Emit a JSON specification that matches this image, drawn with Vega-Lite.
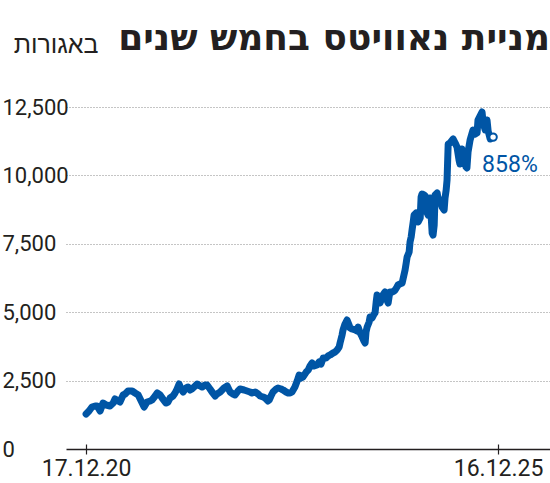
{
  "$schema": "https://vega.github.io/schema/vega-lite/v6.json",
  "width": 484,
  "height": 342,
  "autosize": "none",
  "padding": {"left": 66, "top": 107, "right": 0, "bottom": 34},
  "background": "white",
  "config": {"view": {"stroke": null}},
  "title": {
    "text": "מניית נאוויטס בחמש שנים",
    "anchor": "end",
    "frame": "group",
    "font": "DejaVu Sans",
    "fontSize": 36,
    "fontWeight": "bold",
    "color": "#231f20",
    "baseline": "alphabetic",
    "offset": 0,
    "dy": 54,
    "dx": 0
  },
  "datasets": {
    "prices": [
      {"date": "2020-12-17", "value": 1280},
      {"date": "2020-12-30", "value": 1389},
      {"date": "2021-01-12", "value": 1535},
      {"date": "2021-01-26", "value": 1572},
      {"date": "2021-02-04", "value": 1572},
      {"date": "2021-02-17", "value": 1389},
      {"date": "2021-03-02", "value": 1681},
      {"date": "2021-03-16", "value": 1608},
      {"date": "2021-04-02", "value": 1572},
      {"date": "2021-04-16", "value": 1681},
      {"date": "2021-04-24", "value": 1828},
      {"date": "2021-05-08", "value": 1754},
      {"date": "2021-05-16", "value": 1718},
      {"date": "2021-05-30", "value": 1974},
      {"date": "2021-06-08", "value": 2010},
      {"date": "2021-06-21", "value": 2120},
      {"date": "2021-07-09", "value": 2120},
      {"date": "2021-07-22", "value": 2047},
      {"date": "2021-08-05", "value": 1974},
      {"date": "2021-08-18", "value": 1754},
      {"date": "2021-08-31", "value": 1535},
      {"date": "2021-09-13", "value": 1718},
      {"date": "2021-09-27", "value": 1754},
      {"date": "2021-10-05", "value": 1791},
      {"date": "2021-10-19", "value": 1937},
      {"date": "2021-10-28", "value": 2047},
      {"date": "2021-11-10", "value": 1974},
      {"date": "2021-11-19", "value": 1864},
      {"date": "2021-12-06", "value": 1681},
      {"date": "2021-12-15", "value": 1718},
      {"date": "2021-12-24", "value": 1864},
      {"date": "2022-01-06", "value": 1937},
      {"date": "2022-01-15", "value": 2047},
      {"date": "2022-01-24", "value": 2193},
      {"date": "2022-02-02", "value": 2376},
      {"date": "2022-02-11", "value": 2193},
      {"date": "2022-02-20", "value": 2083},
      {"date": "2022-03-05", "value": 2230},
      {"date": "2022-03-14", "value": 2266},
      {"date": "2022-03-23", "value": 2156},
      {"date": "2022-03-31", "value": 2193},
      {"date": "2022-04-14", "value": 2303},
      {"date": "2022-04-23", "value": 2376},
      {"date": "2022-05-06", "value": 2303},
      {"date": "2022-05-15", "value": 2266},
      {"date": "2022-05-28", "value": 2339},
      {"date": "2022-06-06", "value": 2339},
      {"date": "2022-06-19", "value": 2193},
      {"date": "2022-06-28", "value": 2083},
      {"date": "2022-07-12", "value": 1937},
      {"date": "2022-07-20", "value": 2010},
      {"date": "2022-08-03", "value": 2083},
      {"date": "2022-08-20", "value": 2230},
      {"date": "2022-09-03", "value": 2303},
      {"date": "2022-09-16", "value": 2083},
      {"date": "2022-09-29", "value": 2010},
      {"date": "2022-10-08", "value": 1974},
      {"date": "2022-10-21", "value": 2120},
      {"date": "2022-10-30", "value": 2193},
      {"date": "2022-11-17", "value": 2156},
      {"date": "2022-11-30", "value": 2120},
      {"date": "2022-12-13", "value": 2083},
      {"date": "2022-12-22", "value": 2047},
      {"date": "2023-01-05", "value": 2083},
      {"date": "2023-01-18", "value": 2010},
      {"date": "2023-01-27", "value": 1937},
      {"date": "2023-02-09", "value": 1901},
      {"date": "2023-02-18", "value": 1864},
      {"date": "2023-03-03", "value": 1754},
      {"date": "2023-03-08", "value": 1791},
      {"date": "2023-03-16", "value": 1937},
      {"date": "2023-03-25", "value": 2083},
      {"date": "2023-04-08", "value": 2193},
      {"date": "2023-04-16", "value": 2230},
      {"date": "2023-04-30", "value": 2193},
      {"date": "2023-05-09", "value": 2156},
      {"date": "2023-05-22", "value": 2083},
      {"date": "2023-05-31", "value": 2047},
      {"date": "2023-06-09", "value": 2047},
      {"date": "2023-06-17", "value": 2083},
      {"date": "2023-06-30", "value": 2266},
      {"date": "2023-07-10", "value": 2485},
      {"date": "2023-07-19", "value": 2705},
      {"date": "2023-07-28", "value": 2595},
      {"date": "2023-08-05", "value": 2632},
      {"date": "2023-08-19", "value": 2814},
      {"date": "2023-08-28", "value": 2887},
      {"date": "2023-09-05", "value": 3034},
      {"date": "2023-09-14", "value": 3143},
      {"date": "2023-09-23", "value": 3034},
      {"date": "2023-10-06", "value": 3070},
      {"date": "2023-10-15", "value": 3180},
      {"date": "2023-10-24", "value": 3107},
      {"date": "2023-11-02", "value": 3326},
      {"date": "2023-11-15", "value": 3326},
      {"date": "2023-11-24", "value": 3399},
      {"date": "2023-12-03", "value": 3436},
      {"date": "2023-12-16", "value": 3509},
      {"date": "2023-12-25", "value": 3545},
      {"date": "2024-01-03", "value": 3618},
      {"date": "2024-01-12", "value": 3728},
      {"date": "2024-01-16", "value": 3874},
      {"date": "2024-01-25", "value": 4167},
      {"date": "2024-01-29", "value": 4349},
      {"date": "2024-02-07", "value": 4569},
      {"date": "2024-02-16", "value": 4715},
      {"date": "2024-02-25", "value": 4532},
      {"date": "2024-02-29", "value": 4423},
      {"date": "2024-03-09", "value": 4386},
      {"date": "2024-03-23", "value": 4349},
      {"date": "2024-03-31", "value": 4313},
      {"date": "2024-04-05", "value": 4459},
      {"date": "2024-04-14", "value": 4240},
      {"date": "2024-04-23", "value": 4094},
      {"date": "2024-05-01", "value": 3947},
      {"date": "2024-05-06", "value": 3874},
      {"date": "2024-05-10", "value": 4276},
      {"date": "2024-05-15", "value": 4459},
      {"date": "2024-05-24", "value": 4642},
      {"date": "2024-05-28", "value": 4825},
      {"date": "2024-06-06", "value": 4788},
      {"date": "2024-06-15", "value": 4934},
      {"date": "2024-06-19", "value": 4971},
      {"date": "2024-06-24", "value": 5373},
      {"date": "2024-06-28", "value": 5629},
      {"date": "2024-07-07", "value": 5446},
      {"date": "2024-07-11", "value": 5336},
      {"date": "2024-07-20", "value": 5519},
      {"date": "2024-07-24", "value": 5629},
      {"date": "2024-08-02", "value": 5738},
      {"date": "2024-08-07", "value": 5519},
      {"date": "2024-08-16", "value": 5336},
      {"date": "2024-08-20", "value": 5556},
      {"date": "2024-08-24", "value": 5738},
      {"date": "2024-09-02", "value": 5738},
      {"date": "2024-09-11", "value": 5775},
      {"date": "2024-09-16", "value": 5811},
      {"date": "2024-09-24", "value": 5921},
      {"date": "2024-09-29", "value": 5994},
      {"date": "2024-10-08", "value": 6031},
      {"date": "2024-10-17", "value": 6067},
      {"date": "2024-10-21", "value": 6214},
      {"date": "2024-10-30", "value": 6542},
      {"date": "2024-11-04", "value": 6798},
      {"date": "2024-11-08", "value": 7018},
      {"date": "2024-11-17", "value": 7200},
      {"date": "2024-11-21", "value": 7566},
      {"date": "2024-11-26", "value": 7749},
      {"date": "2024-11-30", "value": 8004},
      {"date": "2024-12-05", "value": 8297},
      {"date": "2024-12-09", "value": 8553},
      {"date": "2024-12-18", "value": 8626},
      {"date": "2024-12-22", "value": 8590},
      {"date": "2024-12-27", "value": 8297},
      {"date": "2025-01-05", "value": 8443},
      {"date": "2025-01-09", "value": 9211},
      {"date": "2025-01-13", "value": 9320},
      {"date": "2025-01-22", "value": 9284},
      {"date": "2025-01-27", "value": 9248},
      {"date": "2025-01-31", "value": 8845},
      {"date": "2025-02-05", "value": 8626},
      {"date": "2025-02-09", "value": 8553},
      {"date": "2025-02-18", "value": 9174},
      {"date": "2025-02-22", "value": 8590},
      {"date": "2025-02-27", "value": 7895},
      {"date": "2025-03-03", "value": 7822},
      {"date": "2025-03-08", "value": 8187},
      {"date": "2025-03-12", "value": 9284},
      {"date": "2025-03-21", "value": 9357},
      {"date": "2025-03-25", "value": 9174},
      {"date": "2025-04-03", "value": 9101},
      {"date": "2025-04-12", "value": 8845},
      {"date": "2025-04-21", "value": 8735},
      {"date": "2025-04-25", "value": 9174},
      {"date": "2025-04-30", "value": 9466},
      {"date": "2025-05-04", "value": 9832},
      {"date": "2025-05-09", "value": 11147},
      {"date": "2025-05-17", "value": 11184},
      {"date": "2025-05-31", "value": 11330},
      {"date": "2025-06-09", "value": 11184},
      {"date": "2025-06-17", "value": 11038},
      {"date": "2025-06-26", "value": 10563},
      {"date": "2025-06-30", "value": 10417},
      {"date": "2025-07-05", "value": 10746},
      {"date": "2025-07-09", "value": 10965},
      {"date": "2025-07-18", "value": 10709},
      {"date": "2025-07-27", "value": 10307},
      {"date": "2025-07-31", "value": 10271},
      {"date": "2025-08-05", "value": 10855},
      {"date": "2025-08-14", "value": 11294},
      {"date": "2025-08-23", "value": 11550},
      {"date": "2025-08-27", "value": 11659},
      {"date": "2025-09-05", "value": 11513},
      {"date": "2025-09-14", "value": 11550},
      {"date": "2025-09-18", "value": 12025},
      {"date": "2025-09-27", "value": 12171},
      {"date": "2025-10-06", "value": 12317},
      {"date": "2025-10-11", "value": 11915},
      {"date": "2025-10-20", "value": 11659},
      {"date": "2025-10-28", "value": 12025},
      {"date": "2025-11-02", "value": 11623},
      {"date": "2025-11-11", "value": 11330},
      {"date": "2025-11-24", "value": 11400}
    ],
    "end": [
      {"date": "2025-11-24", "value": 11400, "label": "858%"}
    ]
  },
  "layer": [
    {
      "data": {"name": "prices"},
      "mark": {"type": "line", "color": "#0055a5", "strokeWidth": 7, "strokeCap": "round", "strokeJoin": "round"},
      "encoding": {
        "x": {
          "field": "date", "type": "temporal",
          "scale": {"type": "utc", "domain": [{"year": 2020, "month": 9, "date": 19, "utc": true}, {"year": 2026, "month": 8, "date": 3, "utc": true}]},
          "axis": {"orient": "bottom", "domain": true, "domainColor": "#231f20", "domainWidth": 1.5, "ticks": false, "labels": false, "grid": false, "title": null}
        },
        "y": {
          "field": "value", "type": "quantitative",
          "scale": {"domain": [0, 12500], "nice": false, "zero": true},
          "axis": {
            "values": [0, 2500, 5000, 7500, 10000, 12500],
            "format": ",d",
            "domain": false, "ticks": false, "tickSize": 0,
            "labelPadding": 64,
            "labelAlign": "left",
            "labelFont": "Roboto",
            "labelFontSize": 22,
            "labelColor": "#231f20",
            "labelBaseline": "middle",
            "grid": true,
            "gridColor": "#8a8a8a",
            "gridDash": [1, 2],
            "gridWidth": 1,
            "gridOpacity": {"expr": "datum.value === 0 ? 0 : 1"},
            "title": "באגורות",
            "titleAngle": 0,
            "titleAlign": "right",
            "titleBaseline": "alphabetic",
            "titleX": 32,
            "titleY": -55,
            "titleFont": "Liberation Sans",
            "titleFontSize": 25,
            "titleFontWeight": "normal",
            "titleColor": "#231f20"
          }
        }
      }
    },
    {
      "data": {"name": "end"},
      "mark": {"type": "point", "shape": "circle", "filled": false, "fill": "white", "fillOpacity": 1, "stroke": "#0055a5", "strokeWidth": 2, "size": 55, "opacity": 1},
      "encoding": {
        "x": {
          "field": "date", "type": "temporal",
          "scale": {"type": "utc", "domain": [{"year": 2020, "month": 9, "date": 19, "utc": true}, {"year": 2026, "month": 8, "date": 3, "utc": true}]},
          "axis": {
            "orient": "bottom",
            "offset": -5,
            "domain": false,
            "grid": false,
            "values": [{"year": 2020, "month": 12, "date": 17, "utc": true}, {"year": 2025, "month": 12, "date": 16, "utc": true}],
            "format": "%d.%m.%y",
            "ticks": true, "tickSize": 10, "tickColor": "#231f20", "tickWidth": 1.2,
            "labelPadding": 3,
            "labelFont": "Roboto",
            "labelFontSize": 23,
            "labelColor": "#231f20",
            "labelFlush": false,
            "labelOverlap": false,
            "title": null
          }
        },
        "y": {"field": "value", "type": "quantitative", "scale": {"domain": [0, 12500], "nice": false}, "axis": null}
      }
    },
    {
      "data": {"name": "end"},
      "mark": {"type": "text", "align": "left", "baseline": "alphabetic", "dx": -11, "dy": 35, "color": "#0055a5", "font": "Roboto", "fontSize": 23},
      "encoding": {
        "x": {"field": "date", "type": "temporal", "scale": {"type": "utc", "domain": [{"year": 2020, "month": 9, "date": 19, "utc": true}, {"year": 2026, "month": 8, "date": 3, "utc": true}]}, "axis": null},
        "y": {"field": "value", "type": "quantitative", "scale": {"domain": [0, 12500], "nice": false}, "axis": null},
        "text": {"field": "label"}
      }
    }
  ],
  "resolve": {"axis": {"x": "independent", "y": "independent"}}
}
